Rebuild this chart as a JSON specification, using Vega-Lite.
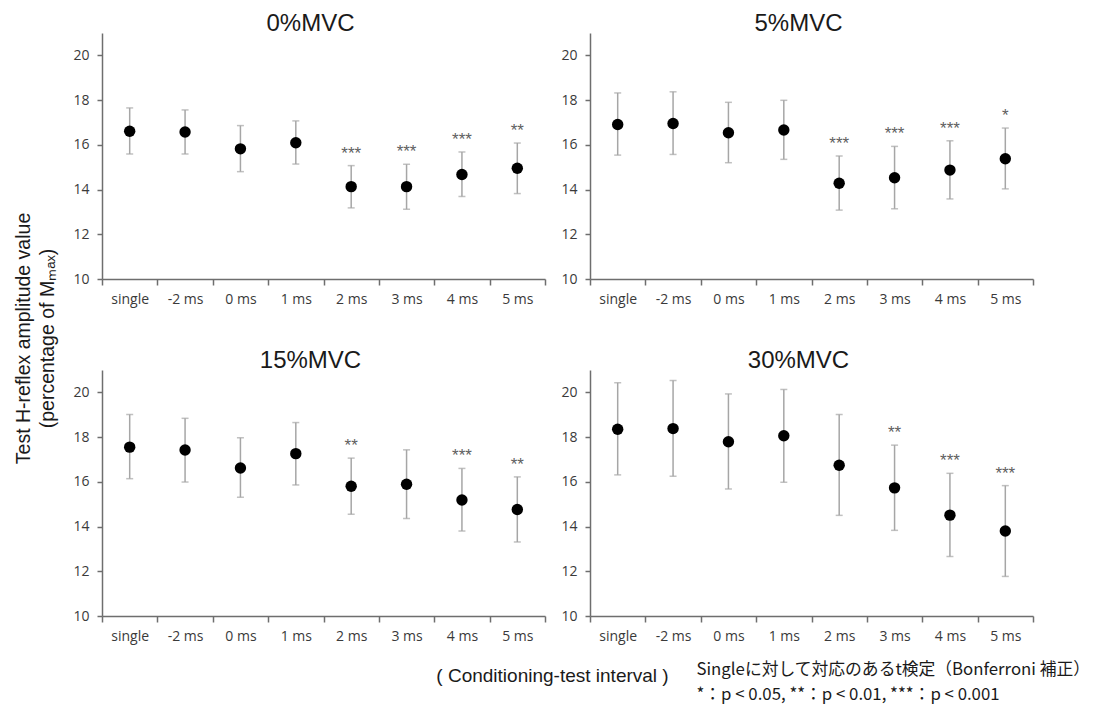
{
  "$schema": "https://vega.github.io/schema/vega-lite/v6.json",
  "padding": {"left": 13, "top": 12, "right": 2, "bottom": 6},
  "background": "white",
  "datasets": {
    "d": [
      {"panel": "0%MVC", "cond": "single", "mean": 16.61, "lower": 15.59, "upper": 17.65, "sig": ""},
      {"panel": "0%MVC", "cond": "-2 ms", "mean": 16.57, "lower": 15.59, "upper": 17.56, "sig": ""},
      {"panel": "0%MVC", "cond": "0 ms", "mean": 15.82, "lower": 14.80, "upper": 16.86, "sig": ""},
      {"panel": "0%MVC", "cond": "1 ms", "mean": 16.09, "lower": 15.14, "upper": 17.07, "sig": ""},
      {"panel": "0%MVC", "cond": "2 ms", "mean": 14.13, "lower": 13.18, "upper": 15.07, "sig": "***"},
      {"panel": "0%MVC", "cond": "3 ms", "mean": 14.13, "lower": 13.12, "upper": 15.13, "sig": "***"},
      {"panel": "0%MVC", "cond": "4 ms", "mean": 14.67, "lower": 13.69, "upper": 15.68, "sig": "***"},
      {"panel": "0%MVC", "cond": "5 ms", "mean": 14.95, "lower": 13.82, "upper": 16.08, "sig": "**"},
      {"panel": "5%MVC", "cond": "single", "mean": 16.91, "lower": 15.54, "upper": 18.32, "sig": ""},
      {"panel": "5%MVC", "cond": "-2 ms", "mean": 16.95, "lower": 15.57, "upper": 18.37, "sig": ""},
      {"panel": "5%MVC", "cond": "0 ms", "mean": 16.54, "lower": 15.20, "upper": 17.90, "sig": ""},
      {"panel": "5%MVC", "cond": "1 ms", "mean": 16.66, "lower": 15.35, "upper": 17.99, "sig": ""},
      {"panel": "5%MVC", "cond": "2 ms", "mean": 14.28, "lower": 13.08, "upper": 15.50, "sig": "***"},
      {"panel": "5%MVC", "cond": "3 ms", "mean": 14.53, "lower": 13.14, "upper": 15.93, "sig": "***"},
      {"panel": "5%MVC", "cond": "4 ms", "mean": 14.87, "lower": 13.58, "upper": 16.18, "sig": "***"},
      {"panel": "5%MVC", "cond": "5 ms", "mean": 15.38, "lower": 14.03, "upper": 16.75, "sig": "*"},
      {"panel": "15%MVC", "cond": "single", "mean": 17.55, "lower": 16.14, "upper": 19.01, "sig": ""},
      {"panel": "15%MVC", "cond": "-2 ms", "mean": 17.42, "lower": 15.99, "upper": 18.84, "sig": ""},
      {"panel": "15%MVC", "cond": "0 ms", "mean": 16.62, "lower": 15.31, "upper": 17.97, "sig": ""},
      {"panel": "15%MVC", "cond": "1 ms", "mean": 17.26, "lower": 15.86, "upper": 18.65, "sig": ""},
      {"panel": "15%MVC", "cond": "2 ms", "mean": 15.80, "lower": 14.55, "upper": 17.06, "sig": "**"},
      {"panel": "15%MVC", "cond": "3 ms", "mean": 15.89, "lower": 14.36, "upper": 17.43, "sig": ""},
      {"panel": "15%MVC", "cond": "4 ms", "mean": 15.19, "lower": 13.80, "upper": 16.60, "sig": "***"},
      {"panel": "15%MVC", "cond": "5 ms", "mean": 14.76, "lower": 13.31, "upper": 16.22, "sig": "**"},
      {"panel": "30%MVC", "cond": "single", "mean": 18.35, "lower": 16.31, "upper": 20.43, "sig": ""},
      {"panel": "30%MVC", "cond": "-2 ms", "mean": 18.38, "lower": 16.25, "upper": 20.53, "sig": ""},
      {"panel": "30%MVC", "cond": "0 ms", "mean": 17.79, "lower": 15.68, "upper": 19.93, "sig": ""},
      {"panel": "30%MVC", "cond": "1 ms", "mean": 18.06, "lower": 15.98, "upper": 20.13, "sig": ""},
      {"panel": "30%MVC", "cond": "2 ms", "mean": 16.74, "lower": 14.50, "upper": 19.01, "sig": ""},
      {"panel": "30%MVC", "cond": "3 ms", "mean": 15.73, "lower": 13.83, "upper": 17.64, "sig": "**"},
      {"panel": "30%MVC", "cond": "4 ms", "mean": 14.51, "lower": 12.66, "upper": 16.38, "sig": "***"},
      {"panel": "30%MVC", "cond": "5 ms", "mean": 13.80, "lower": 11.77, "upper": 15.83, "sig": "***"}
    ]
  },
  "columns": 2,
  "bounds": "flush",
  "spacing": {"row": 91, "column": 45},
  "concat": [
    {
      "title": {"text": "0%MVC"},
      "width": 443, "height": 246,
      "data": {"name": "d"},
      "transform": [{"filter": "datum.panel === '0%MVC'"}],
      "encoding": {
        "x": {"field": "cond", "type": "nominal", "sort": ["single", "-2 ms", "0 ms", "1 ms", "2 ms", "3 ms", "4 ms", "5 ms"], "scale": {"type": "band", "paddingInner": 0, "paddingOuter": 0}, "title": null}
      },
      "layer": [
        {"mark": {"type": "rule", "color": "#a6a6a6", "strokeWidth": 1.5},
         "encoding": {"y": {"field": "lower", "type": "quantitative", "scale": {"domain": [10, 21], "nice": false, "zero": false},
           "axis": {"values": [10, 12, 14, 16, 18, 20],
             "title": ["Test H-reflex amplitude value", "(percentage of Mₘₐₓ)"],
             "titleFont": "Liberation Sans", "titleFontSize": 19.5, "titleFontWeight": "normal", "titleColor": "#1a1a1a",
             "titleAngle": 270, "titleX": -79, "titleY": 305, "titleBaseline": "middle", "titleAlign": "center", "titleLineHeight": 24}},
           "y2": {"field": "upper"}}},
        {"mark": {"type": "tick", "color": "#a6a6a6", "size": 7, "thickness": 1.5}, "encoding": {"y": {"field": "upper", "type": "quantitative"}}},
        {"mark": {"type": "tick", "color": "#a6a6a6", "size": 7, "thickness": 1.5}, "encoding": {"y": {"field": "lower", "type": "quantitative"}}},
        {"mark": {"type": "point", "filled": true, "color": "#000000", "opacity": 1, "size": 130}, "encoding": {"y": {"field": "mean", "type": "quantitative"}}},
        {"transform": [{"filter": "datum.sig !== ''"}],
         "mark": {"type": "text", "color": "#606060", "font": "Liberation Sans", "fontSize": 17, "baseline": "alphabetic", "dy": -7}, "encoding": {"y": {"field": "upper", "type": "quantitative"}, "text": {"field": "sig"}}}
      ]
    },
    {
      "title": {"text": "5%MVC"},
      "width": 443, "height": 246,
      "data": {"name": "d"},
      "transform": [{"filter": "datum.panel === '5%MVC'"}],
      "encoding": {
        "x": {"field": "cond", "type": "nominal", "sort": ["single", "-2 ms", "0 ms", "1 ms", "2 ms", "3 ms", "4 ms", "5 ms"], "scale": {"type": "band", "paddingInner": 0, "paddingOuter": 0}, "title": null}
      },
      "layer": [
        {"mark": {"type": "rule", "color": "#a6a6a6", "strokeWidth": 1.5},
         "encoding": {"y": {"field": "lower", "type": "quantitative", "scale": {"domain": [10, 21], "nice": false, "zero": false},
           "axis": {"values": [10, 12, 14, 16, 18, 20], "title": null}},
           "y2": {"field": "upper"}}},
        {"mark": {"type": "tick", "color": "#a6a6a6", "size": 7, "thickness": 1.5}, "encoding": {"y": {"field": "upper", "type": "quantitative"}}},
        {"mark": {"type": "tick", "color": "#a6a6a6", "size": 7, "thickness": 1.5}, "encoding": {"y": {"field": "lower", "type": "quantitative"}}},
        {"mark": {"type": "point", "filled": true, "color": "#000000", "opacity": 1, "size": 130}, "encoding": {"y": {"field": "mean", "type": "quantitative"}}},
        {"transform": [{"filter": "datum.sig !== ''"}],
         "mark": {"type": "text", "color": "#606060", "font": "Liberation Sans", "fontSize": 17, "baseline": "alphabetic", "dy": -7}, "encoding": {"y": {"field": "upper", "type": "quantitative"}, "text": {"field": "sig"}}}
      ]
    },
    {
      "title": {"text": "15%MVC"},
      "width": 443, "height": 246,
      "data": {"name": "d"},
      "transform": [{"filter": "datum.panel === '15%MVC'"}],
      "encoding": {
        "x": {"field": "cond", "type": "nominal", "sort": ["single", "-2 ms", "0 ms", "1 ms", "2 ms", "3 ms", "4 ms", "5 ms"], "scale": {"type": "band", "paddingInner": 0, "paddingOuter": 0},
          "title": "( Conditioning-test interval )",
          "axis": {"titleFont": "Liberation Sans", "titleFontSize": 19, "titleFontWeight": "normal", "titleColor": "#1a1a1a", "titleX": 450, "titleY": 59, "titleBaseline": "middle", "titleAlign": "center"}}
      },
      "layer": [
        {"mark": {"type": "rule", "color": "#a6a6a6", "strokeWidth": 1.5},
         "encoding": {"y": {"field": "lower", "type": "quantitative", "scale": {"domain": [10, 21], "nice": false, "zero": false},
           "axis": {"values": [10, 12, 14, 16, 18, 20], "title": null}},
           "y2": {"field": "upper"}}},
        {"mark": {"type": "tick", "color": "#a6a6a6", "size": 7, "thickness": 1.5}, "encoding": {"y": {"field": "upper", "type": "quantitative"}}},
        {"mark": {"type": "tick", "color": "#a6a6a6", "size": 7, "thickness": 1.5}, "encoding": {"y": {"field": "lower", "type": "quantitative"}}},
        {"mark": {"type": "point", "filled": true, "color": "#000000", "opacity": 1, "size": 130}, "encoding": {"y": {"field": "mean", "type": "quantitative"}}},
        {"transform": [{"filter": "datum.sig !== ''"}],
         "mark": {"type": "text", "color": "#606060", "font": "Liberation Sans", "fontSize": 17, "baseline": "alphabetic", "dy": -7}, "encoding": {"y": {"field": "upper", "type": "quantitative"}, "text": {"field": "sig"}}}
      ]
    },
    {
      "title": {"text": "30%MVC"},
      "width": 443, "height": 246,
      "data": {"name": "d"},
      "transform": [{"filter": "datum.panel === '30%MVC'"}],
      "encoding": {
        "x": {"field": "cond", "type": "nominal", "sort": ["single", "-2 ms", "0 ms", "1 ms", "2 ms", "3 ms", "4 ms", "5 ms"], "scale": {"type": "band", "paddingInner": 0, "paddingOuter": 0},
          "title": ["Singleに対して対応のあるt検定（Bonferroni 補正）", "*：p < 0.05,  **：p < 0.01,  ***：p < 0.001"],
          "axis": {"titleFont": "Noto Sans CJK JP", "titleFontSize": 16.8, "titleFontWeight": "normal", "titleColor": "#1a1a1a", "titleX": 106, "titleY": 53, "titleBaseline": "middle", "titleAlign": "left", "titleLineHeight": 25}}
      },
      "layer": [
        {"mark": {"type": "rule", "color": "#a6a6a6", "strokeWidth": 1.5},
         "encoding": {"y": {"field": "lower", "type": "quantitative", "scale": {"domain": [10, 21], "nice": false, "zero": false},
           "axis": {"values": [10, 12, 14, 16, 18, 20], "title": null}},
           "y2": {"field": "upper"}}},
        {"mark": {"type": "tick", "color": "#a6a6a6", "size": 7, "thickness": 1.5}, "encoding": {"y": {"field": "upper", "type": "quantitative"}}},
        {"mark": {"type": "tick", "color": "#a6a6a6", "size": 7, "thickness": 1.5}, "encoding": {"y": {"field": "lower", "type": "quantitative"}}},
        {"mark": {"type": "point", "filled": true, "color": "#000000", "opacity": 1, "size": 130}, "encoding": {"y": {"field": "mean", "type": "quantitative"}}},
        {"transform": [{"filter": "datum.sig !== ''"}],
         "mark": {"type": "text", "color": "#606060", "font": "Liberation Sans", "fontSize": 17, "baseline": "alphabetic", "dy": -7}, "encoding": {"y": {"field": "upper", "type": "quantitative"}, "text": {"field": "sig"}}}
      ]
    }
  ],
  "config": {
    "view": {"stroke": null},
    "title": {"font": "Liberation Sans", "fontSize": 24, "fontWeight": "normal", "color": "#1a1a1a", "frame": "group", "anchor": "middle", "dx": -13, "baseline": "bottom", "offset": -3},
    "axis": {"grid": false, "domainColor": "#6e6e6e", "domainWidth": 1.5, "tickColor": "#6e6e6e", "tickWidth": 1.5,
      "labelFont": "Open Sans", "labelFontSize": 14, "labelColor": "#3a3a3a"},
    "axisX": {"labelAngle": 0, "tickBand": "extent", "tickSize": 6, "labelPadding": 7},
    "axisY": {"tickSize": 5, "labelPadding": 8}
  }
}
